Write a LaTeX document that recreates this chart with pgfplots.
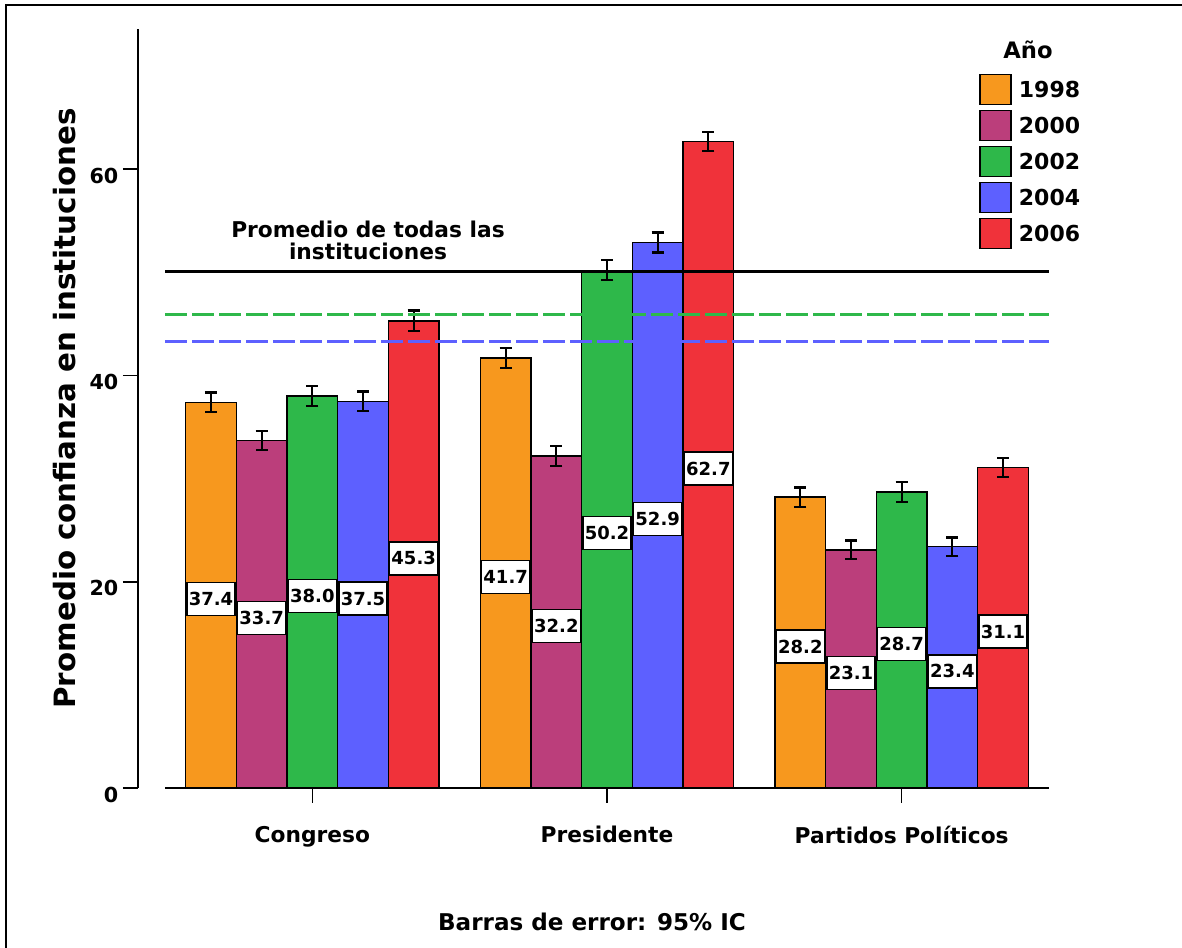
\documentclass[border=0pt]{standalone}
\usepackage{pgfplots}
\pgfplotsset{compat=1.18}
\usepackage{fontspec}
\setmainfont{DejaVu Sans}
\definecolor{cA}{HTML}{F7981E}
\definecolor{cB}{HTML}{BB3E7B}
\definecolor{cC}{HTML}{2EB84A}
\definecolor{cD}{HTML}{5D60FF}
\definecolor{cE}{HTML}{F0323A}
\pgfplotsset{
  barstyle/.style={draw=black, line width=1.1pt,
    error bars/.cd, y dir=both, y explicit,
    error bar style={line width=1.6pt, black, solid},
    error mark options={rotate=90, mark size=4.5pt, line width=1.6pt, black},
    /pgfplots/.cd,
    nodes near coords={\pgfmathprintnumber[fixed,fixed zerofill,precision=1]{\pgfplotspointmeta}},
    visualization depends on=y \as \rawy,
    every node near coord/.append style={anchor=center, shift={(axis direction cs:0,-\rawy/2)}, yshift=-3pt,
      fill=white, draw=black, line width=1.1pt, text=black,
      font=\bfseries\fontsize{13.5}{15}\selectfont, inner sep=1pt,
      minimum width=36pt, minimum height=24.75pt},
  },
}
\begin{document}
\begin{tikzpicture}[x=0.75pt,y=0.75pt]
\useasboundingbox (0,0) rectangle (1182,948);
\draw[line width=1.6pt] (6,-5) -- (6,943) -- (1190,943);
\begin{axis}[
  at={(123.75pt,120pt)}, anchor=south west,
  scale only axis, width=663pt, height=569.25pt,
  xmin=-0.5, xmax=2.5, ymin=0, ymax=73.6,
  ybar=0pt, bar width=38pt,
  clip=false,
  axis line style={draw=none},
  /pgf/number format/assume math mode=true,
  tick align=outside, major tick length=11.25pt,
  xtick={0,1,2}, xticklabels={Congreso,Presidente,Partidos Políticos},
  xtick pos=bottom, ytick pos=left,
  ytick={0,20,40,60},
  xtick style={line width=1.2pt, black},
  ytick style={line width=1.2pt, black, xshift=-20.25pt},
  xticklabel style={font=\bfseries\fontsize{16.3}{18}\selectfont, yshift=-14pt},
  yticklabel style={font=\bfseries\fontsize{15.5}{17}\selectfont, xshift=-20.25pt, yshift=-5pt},
  ylabel={Promedio confianza en instituciones},
  every axis y label/.style={at={(rel axis cs:0,0.5)}, xshift=-75pt, rotate=90, anchor=center,
    font=\bfseries\fontsize{22}{24}\selectfont},
  legend style={at={(0.921,0.9415)}, anchor=north west, draw=none, fill=none,
    font=\bfseries\fontsize{16.5}{18}\selectfont, row sep=3.45pt, inner sep=0pt,
    nodes={inner sep=0pt},
    /tikz/every odd column/.style={column sep=5.25pt}},
  legend cell align=left,
  legend image code/.code={\draw[#1, draw=black, line width=1.1pt] (0pt,-10.5pt) rectangle (23.25pt,12pt);},
]
\addplot[barstyle, fill=cA] coordinates {(0,37.4) +- (0,0.95) (1,41.7) +- (0,1.0) (2,28.2) +- (0,0.94)};
\addlegendentry{1998}
\addplot[barstyle, fill=cB] coordinates {(0,33.7) +- (0,0.95) (1,32.2) +- (0,0.95) (2,23.1) +- (0,0.9)};
\addlegendentry{2000}
\addplot[barstyle, fill=cC] coordinates {(0,38.0) +- (0,0.97) (1,50.2) +- (0,0.97) (2,28.7) +- (0,0.97)};
\addlegendentry{2002}
\addplot[barstyle, fill=cD] coordinates {(0,37.5) +- (0,0.95) (1,52.9) +- (0,0.97) (2,23.4) +- (0,0.89)};
\addlegendentry{2004}
\addplot[barstyle, fill=cE] coordinates {(0,45.3) +- (0,1.0) (1,62.7) +- (0,0.94) (2,31.1) +- (0,0.94)};
\addlegendentry{2006}
\draw[black, line width=2.25pt] (axis cs:-0.5,50.1) -- (axis cs:2.5,50.1);
\draw[cC, line width=2.5pt, dash pattern=on 16.5pt off 3.75pt] (axis cs:-0.5,45.9) -- (axis cs:2.5,45.9);
\draw[cD, line width=2.5pt, dash pattern=on 16.5pt off 3.75pt] (axis cs:-0.5,43.3) -- (axis cs:2.5,43.3);
\draw[line width=1.5pt] (axis cs:-0.5,0) -- (axis cs:2.5,0);
\draw[line width=1.5pt] ([xshift=-20.25pt]axis cs:-0.5,0) -- ([xshift=-20.25pt]axis cs:-0.5,73.6);
\end{axis}
\node[font=\bfseries\fontsize{17}{19}\selectfont] at (1028,898) {Año};
\node[font=\bfseries\fontsize{16.3}{16.5}\selectfont, align=center] at (368,708) {Promedio de todas las\\instituciones};
\node[font=\bfseries\fontsize{17.3}{19}\selectfont] at (592,26) {Barras de error: 95\% IC};
\end{tikzpicture}
\end{document}
